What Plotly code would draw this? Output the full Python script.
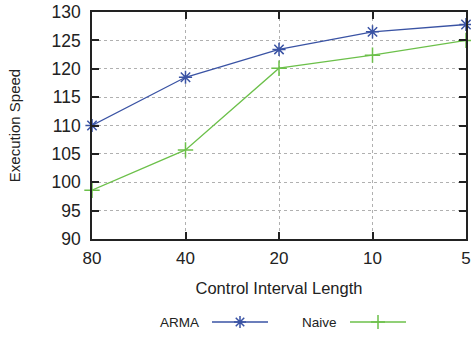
import plotly.graph_objects as go

categories = ["80", "40", "20", "10", "5"]
arma = [110.0, 118.5, 123.4, 126.5, 127.8]
naive = [98.6, 105.7, 120.1, 122.4, 125.0]
y_ticks = [90, 95, 100, 105, 110, 115, 120, 125, 130]

blue = "#3a53a4"
green = "#6cc04a"
font = "Liberation Sans, Arial, sans-serif"

L, R = 92, 5
W, H = 471, 337
fig = go.Figure()
fig.add_trace(go.Scatter(x=categories, y=arma, mode="lines+markers", name="ARMA",
                         line=dict(color=blue, width=1.3),
                         marker=dict(symbol="asterisk-open", size=11, color=blue, line=dict(color=blue, width=1.5)),
                         cliponaxis=False, showlegend=False))
fig.add_trace(go.Scatter(x=categories, y=naive, mode="lines+markers", name="Naive",
                         line=dict(color=green, width=1.3),
                         marker=dict(symbol="cross-thin-open", size=11, color=green, line=dict(color=green, width=1.5)),
                         cliponaxis=False, showlegend=False))

# custom legend (text before sample line) on an overlay axis measured in pixels
legend_names = ["ARMA", "Naive"]
legend_colors = [blue, green]
legend_symbols = ["asterisk-open", "cross-thin-open"]
legend_text_right = [200, 338]
for nm, col, sym, xr in zip(legend_names, legend_colors, legend_symbols, legend_text_right):
    fig.add_trace(go.Scatter(x=[xr + 12, xr + 40, xr + 68], y=[0.5, 0.5, 0.5],
                             xaxis="x2", yaxis="y2", mode="lines",
                             line=dict(color=col, width=1.3), showlegend=False, hoverinfo="skip"))
    fig.add_trace(go.Scatter(x=[xr + 40], y=[0.5], xaxis="x2", yaxis="y2", mode="markers",
                             marker=dict(symbol=sym, size=10, color=col, line=dict(color=col, width=1.5)),
                             showlegend=False, hoverinfo="skip"))
    fig.add_annotation(x=xr, y=0.5, xref="x2", yref="y2", text=nm, showarrow=False,
                       xanchor="right", yanchor="middle", xshift=1,
                       font=dict(size=13.5, color="#222", family=font))

fig.update_layout(
    width=W, height=H,
    margin=dict(l=L, r=R, t=12, b=5, autoexpand=False),
    plot_bgcolor="white", paper_bgcolor="white",
    font=dict(family=font, color="#222"),
    xaxis=dict(type="category", range=[0, 4], showline=True, mirror="ticks", linecolor="#222", linewidth=1.5,
               ticks="inside", ticklen=7, tickcolor="#222", tickwidth=1.5, ticklabelstandoff=3,
               ticklabeloverflow="allow", automargin=False,
               showgrid=True, gridcolor="#b0b0b0", griddash="dot", gridwidth=1,
               tickfont=dict(size=17), title=dict(text="Control Interval Length", font=dict(size=16.5), standoff=15),
               domain=[0, 1], anchor="y"),
    yaxis=dict(range=[90, 130], tickvals=y_ticks, showline=True, mirror="ticks", linecolor="#222", linewidth=1.5,
               ticks="inside", ticklen=7, tickcolor="#222", tickwidth=1.5, ticklabelstandoff=6,
               automargin=False,
               showgrid=True, gridcolor="#b0b0b0", griddash="dot", gridwidth=1, zeroline=False,
               tickfont=dict(size=17.5), title=dict(text="Execution Speed", font=dict(size=15), standoff=27),
               domain=[0.2906, 1], anchor="x"),
    xaxis2=dict(range=[L, W - R], domain=[0, 1], anchor="y2", visible=False),
    yaxis2=dict(range=[0, 1], domain=[0, 0.0625], anchor="x2", visible=False),
)

fig.write_html("out.html", config={"displayModeBar": False},
               post_script="document.body.style.margin='0';")
